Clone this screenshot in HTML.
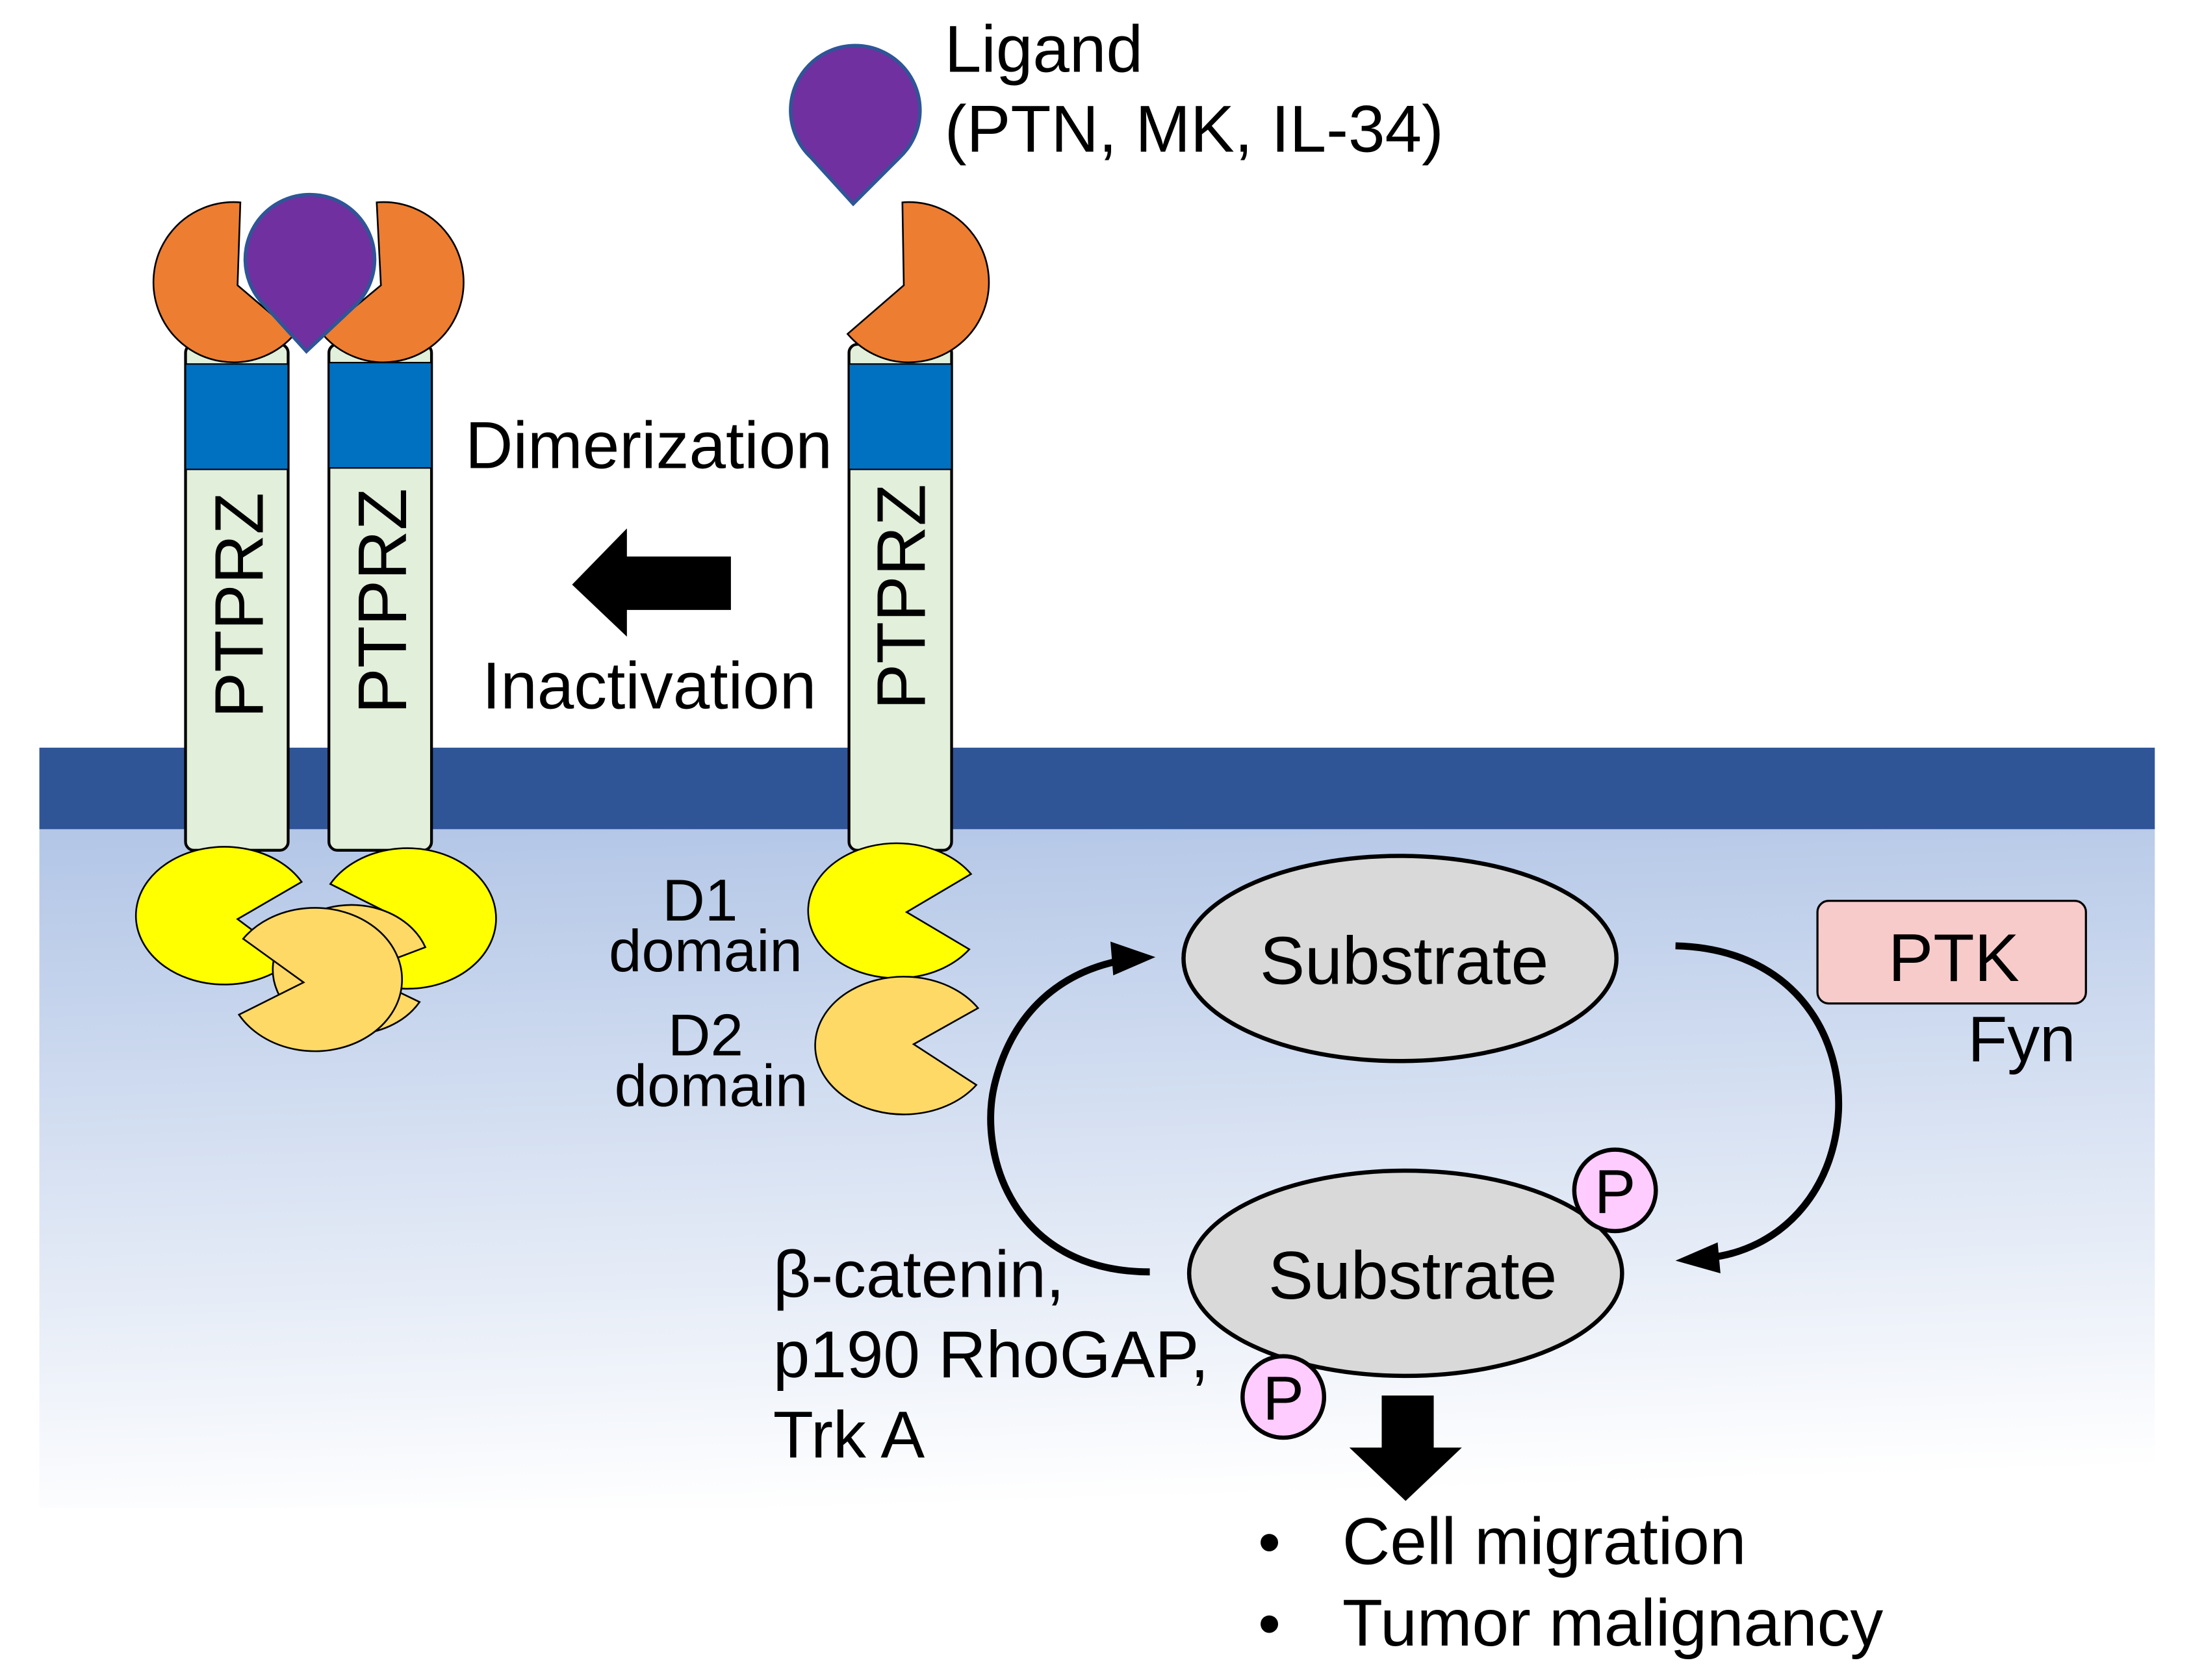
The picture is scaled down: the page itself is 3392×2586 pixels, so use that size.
<!DOCTYPE html>
<html><head><meta charset="utf-8"><style>html,body{margin:0;padding:0;background:#fff}svg{display:block}text{font-family:"Liberation Sans",sans-serif;fill:#000}</style></head>
<body>
<svg width="3392" height="2586" viewBox="0 0 1568 1195.4" preserveAspectRatio="none" xmlns="http://www.w3.org/2000/svg">
<defs>
<linearGradient id="g" x1="0.3" y1="0" x2="0.4" y2="1">
<stop offset="0" stop-color="#b4c7e7"/><stop offset="1" stop-color="#ffffff"/></linearGradient>
</defs>
<rect x="28" y="588" width="1505" height="485" fill="url(#g)"/>
<rect x="28" y="532" width="1505" height="58" fill="#2f5597"/>
<g stroke="#000" stroke-width="2">
<rect x="132" y="245" width="73" height="360" rx="6" fill="#e2efda"/>
<rect x="234" y="245" width="73" height="360" rx="6" fill="#e2efda"/>
<rect x="604" y="245" width="73" height="360" rx="6" fill="#e2efda"/>
</g>
<g fill="#0070c0" stroke="#000" stroke-width="1">
<rect x="132" y="259" width="73" height="75"/>
<rect x="234" y="258" width="73" height="75"/>
<rect x="604" y="259" width="73" height="75"/>
</g>
<g font-size="49">
<text transform="translate(187,511) rotate(-90)">PTPRZ</text>
<text transform="translate(289,508) rotate(-90)">PTPRZ</text>
<text transform="translate(658,505) rotate(-90)">PTPRZ</text>
</g>
<g fill="#ed7d31" stroke="#000" stroke-width="1.2">
<path d="M171,144 L169,203 L209.7,237.6 A57,57 0 1 1 171,144 Z"/>
<path d="M268,144 L271,203 L229.3,237.6 A57,57 0 1 0 268,144 Z"/>
<path d="M642,144 L643,203 L603,237.6 A57,57 0 1 0 642,144 Z"/>
</g>
<g fill="#7030a0" stroke="#2f5597" stroke-width="2.5">
<path d="M189,218 A46,46 0 1 1 252,218 L218,250 Z"/>
<path d="M577,112 A46,46 0 1 1 640,112 L607,145 Z"/>
</g>
<g stroke="#000" stroke-width="1.2">
<path d="M214.6,627.5 L169,654 L208,683 A63,49 0 1 1 214.6,627.5 Z" fill="#ffff00"/>
<path d="M235,629 L283,653 L242,686 A63,50 0 1 0 235,629 Z" fill="#ffff00"/>
<path d="M302.6,674 L255,692 L298.5,713 A56,46 0 1 1 302.6,674 Z" fill="#ffd966"/>
<path d="M173,668 L216,699 L170,722 A62,51 0 1 0 173,668 Z" fill="#ffd966"/>
<path d="M690.8,621.9 L645,649 L689.6,675.5 A63,48 0 1 1 690.8,621.9 Z" fill="#ffff00"/>
<path d="M695.8,717.3 L650,743 L694.6,772 A63,49 0 1 1 695.8,717.3 Z" fill="#ffd966"/>
</g>
<path d="M520,396 L446,396 L446,376 L407,416 L446,453 L446,434 L520,434 Z" fill="#000"/>
<path d="M983,993 L1020,993 L1020,1030 L1040,1030 L1000,1068 L960,1030 L983,1030 Z" fill="#000"/>
<g fill="none" stroke="#000" stroke-width="5">
<path d="M818,905 C720,905 695,820 708,770 C722,715 760,690 800,683"/>
<path d="M1192,673 C1275,675 1310,735 1308,790 C1305,850 1265,890 1215,895"/>
</g>
<path d="M822,681 L790,670 L792,694 Z" fill="#000"/>
<path d="M1192,897 L1222,884 L1224,906 Z" fill="#000"/>
<g fill="#d9d9d9" stroke="#000" stroke-width="3">
<ellipse cx="996" cy="682" rx="154" ry="73"/>
<ellipse cx="1000" cy="906" rx="154" ry="73"/>
</g>
<rect x="1293" y="641" width="191" height="73" rx="8" fill="#f8cbcb" stroke="#000" stroke-width="1.5"/>
<g fill="#ffccff" stroke="#000" stroke-width="3">
<circle cx="1149" cy="847" r="29"/>
<circle cx="913" cy="994" r="29"/>
</g>
<g font-size="46">
<text x="1149" y="863" text-anchor="middle" font-size="44">P</text>
<text x="913" y="1010" text-anchor="middle" font-size="44">P</text>
<text x="999" y="700" text-anchor="middle" font-size="48">Substrate</text>
<text x="1005" y="924" text-anchor="middle" font-size="48">Substrate</text>
<text x="1390" y="698" text-anchor="middle" font-size="48">PTK</text>
<text x="1400" y="755">Fyn</text>
<text x="672" y="51" font-size="47">Ligand</text>
<text x="672" y="108" font-size="47">(PTN, MK, IL-34)</text>
<text x="331" y="333" font-size="47">Dimerization</text>
<text x="343" y="504" font-size="47">Inactivation</text>
<text x="550" y="923" font-size="47">β-catenin,</text>
<text x="550" y="980" font-size="47">p190 RhoGAP,</text>
<text x="550" y="1037" font-size="47">Trk A</text>
<text x="895" y="1113">•</text>
<text x="955" y="1113" font-size="47">Cell migration</text>
<text x="895" y="1171">•</text>
<text x="955" y="1171" font-size="47">Tumor malignancy</text>
</g>
<g font-size="42" text-anchor="middle">
<text x="498" y="655">D1</text>
<text x="502" y="691">domain</text>
<text x="502" y="751">D2</text>
<text x="506" y="787">domain</text>
</g>
</svg>
</body></html>
